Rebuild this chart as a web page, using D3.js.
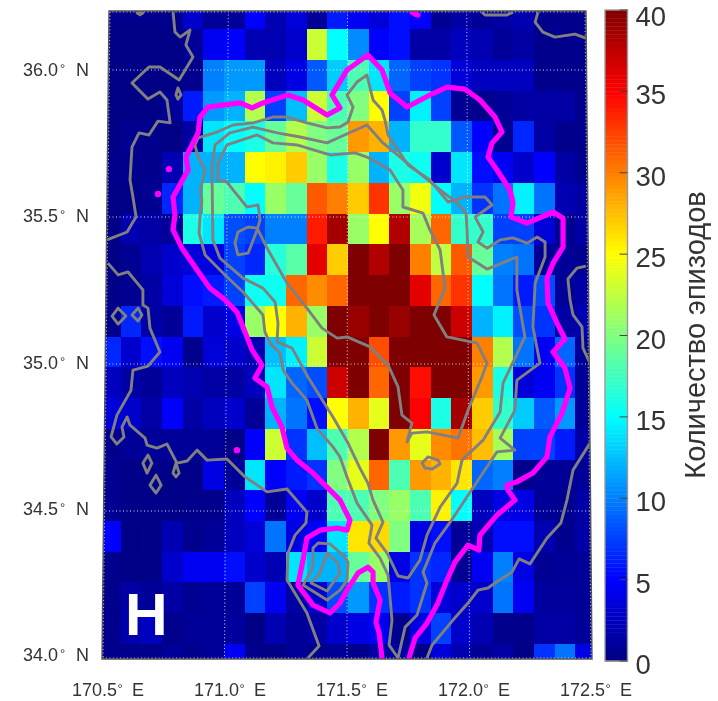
<!DOCTYPE html>
<html><head><meta charset="utf-8">
<script src="https://cdn.jsdelivr.net/npm/d3@7"></script>
<style>html,body{margin:0;padding:0;background:#fff}svg{display:block;filter:blur(.3px)}text{font-family:"Liberation Sans",Arial,sans-serif;fill:#333}</style>
</head><body><svg id="c" width="718" height="701"></svg>
<script>
const latTicks=[36.0,35.5,35.0,34.5,34.0];
const lonTicks=[170.5,171.0,171.5,172.0,172.5];
const cbTicks=[0,5,10,15,20,25,30,35,40];
const cbLabel="Количество эпизодов";
const panelLetter="Н";
const counts=[
[.5,.5,.5,.5,3,1,1,5,2,3.5,1,6,4.5,3.5,5.5,5,.8,1.5,1,1.5,2,.5,.5,.5],
[.3,.3,.3,.3,1,4.5,5,2,2,3,23,15,10.5,5,5.5,1.5,1.5,2.5,2,1,1.5,.5,.5,.5],
[.3,.3,.3,.3,.5,10,11,11,2.5,4,8.5,13,18,14,9,7.5,7,3.5,2.5,2.5,2.5,.5,.5,.5],
[.3,.3,.3,1,6,11,12,22,7.5,12.5,23,18,20,25,7.5,14.5,7.5,.8,.5,1,1.5,1.5,1.5,.5],
[.3,.7,.5,.3,1.5,14,15,16,19,22,20,19,29,28,12,17,17,8.5,5,.7,6.5,1.5,.5,.5],
[.5,.5,.5,2,12,12,12,25,25.5,27,21,16,21,12,16,15.5,3,14,5.5,4.5,3,5,1.5,.7],
[.4,.4,.7,6.5,12,19,18,15,21,19,31.5,30,27,33,21,24.5,15,12,7,9.5,14.5,9.5,2,1.5],
[.3,2,1.5,1,16,14,8,7.5,10,10,34,38.5,21,25,38,21.5,31,17,17,7.5,7.5,3.5,.5,1.5],
[.3,.8,2,3,3.5,4,7.5,6.5,16.5,18.5,36,27,40,38,40,30,22.5,31.5,19,10,9.5,1,1,.7],
[.4,.8,1.5,3.5,5.5,6,7.5,15.5,15.5,31,29.5,31,40,40,40,36,31,33,15,9.5,6,8,1,1.5],
[.5,6.5,1.5,1,6,3,4,21,25,28,21,40,39,40,39,40,40,37,12,14.5,8,7,1.5,2],
[6.5,3,5.5,4.5,.5,3.5,3,2,12.5,14.5,23,40,40,32,40,40,40,40,30,22,9.5,4.5,9,1],
[2.5,1.5,1,2.5,2,1.5,1.5,2.5,14,9,8,37,40,31,40,34.5,40,40,29,16,3.5,4.5,7,1],
[3.5,3,1.5,5,1.5,2.5,3,1,12,9.5,5.5,25,28,24,40,35,16,38.5,27,17,13,8.5,11,1],
[.5,1,1,1,1,1,.4,5,23,7,12.5,18,22,40,29,24,29.5,30.5,27.5,21.5,7.5,7.5,6,1.5],
[.7,.4,.4,.4,.4,4,1,14,5,6,7,20,24,31,18,29,28,26,9,10,.5,1,1,1],
[.7,.4,.4,.4,.5,.5,2.5,5,1,4.5,3,18,18,20,21,18,25.5,15,2.5,4,4,1,.7,1.5],
[5,.3,.4,2,.6,1,2.5,3.5,9.5,4,5,14,26,26.5,20,4,5.5,1,2,5.5,5.5,2,.6,1.5],
[.5,.4,.4,3,4.5,4.5,5.5,3,2,14,12,12,19,21,4,7,6.5,.8,4.5,10,4,.8,1,1],
[.5,1.5,1,1.5,.8,1,1,7.5,4.5,1.5,3,8,11,7,6,7,3.5,3,3,9.5,4.5,1.2,1.2,1],
[.5,1.8,2.5,.5,1,1,1.2,.3,2,1,1.5,3,4,4.5,.7,4,7.5,3,2,.5,.5,1.5,1.5,1],
[.5,.5,.5,1,.6,1,4.5,.5,.3,1,.5,1,.5,1.5,1.5,.3,3.5,2,1,1.5,.3,7,9.5,4]
];
const cellLons=[170.48,170.565,170.65,170.735,170.82,170.905,170.99,171.075,171.16,171.245,171.33,171.415,171.5,171.585,171.67,171.755,171.84,171.925,172.01,172.095,172.18,172.265,172.35,172.435,172.52];
const cellLats=[36.243,36.138,36.034,35.93,35.825,35.72,35.616,35.511,35.407,35.302,35.198,35.093,34.989,34.884,34.78,34.675,34.571,34.466,34.362,34.257,34.153,34.048,33.944];

const domeEdge=[[171.640,34.000],[171.628,34.085],[171.615,34.122],[171.632,34.197],[171.603,34.255],[171.603,34.292],[171.582,34.309],[171.541,34.289],[171.496,34.231],[171.467,34.187],[171.426,34.153],[171.356,34.180],[171.294,34.248],[171.315,34.333],[171.331,34.408],[171.385,34.435],[171.455,34.442],[171.496,34.435],[171.508,34.469],[171.467,34.537],[171.356,34.629],[171.290,34.673],[171.249,34.714],[171.228,34.786],[171.187,34.854],[171.167,34.922],[171.117,34.952],[171.146,34.996],[171.105,35.048],[171.068,35.126],[171.043,35.177],[170.994,35.218],[170.932,35.258],[170.879,35.320],[170.817,35.394],[170.780,35.456],[170.788,35.507],[170.780,35.568],[170.842,35.660],[170.833,35.704],[170.883,35.786],[170.891,35.840],[170.924,35.874],[171.056,35.888],[171.105,35.871],[171.150,35.888],[171.253,35.915],[171.315,35.898],[171.414,35.847],[171.467,35.871],[171.434,35.915],[171.496,36.000],[171.582,36.051],[171.640,36.000],[171.673,35.922],[171.743,35.874],[171.837,35.915],[171.907,35.942],[171.981,35.935],[172.043,35.898],[172.105,35.840],[172.134,35.789],[172.093,35.752],[172.076,35.704],[172.113,35.660],[172.167,35.592],[172.179,35.548],[172.171,35.500],[172.237,35.479],[172.344,35.517],[172.385,35.496],[172.385,35.398],[172.344,35.343],[172.319,35.292],[172.323,35.207],[172.360,35.139],[172.393,35.085],[172.344,35.041],[172.393,34.986],[172.414,34.918],[172.381,34.833],[172.331,34.752],[172.323,34.707],[172.319,34.684],[172.261,34.629],[172.195,34.599],[172.154,34.588],[172.158,34.571],[172.187,34.537],[172.113,34.486],[172.043,34.418],[172.039,34.367],[171.994,34.384],[171.940,34.326],[171.907,34.265],[171.870,34.187],[171.825,34.119],[171.776,34.068],[171.751,34.000]];
const domeTop=[[171.763,36.197],[171.776,36.190],[171.788,36.187]];
const domeSpots=[[170.763,35.663],[170.718,35.578],[171.043,34.707]];

const coastA=[[170.780,36.197],[170.788,36.129],[170.809,36.112],[170.850,36.136],[170.833,36.085],[170.862,36.044],[170.805,35.966],[170.726,36.010],[170.681,36.010],[170.611,35.956],[170.677,35.901],[170.726,35.925],[170.755,35.898],[170.768,35.820],[170.718,35.826],[170.681,35.779],[170.640,35.786],[170.611,35.738],[170.603,35.626],[170.615,35.568],[170.628,35.500],[170.615,35.483],[170.591,35.449],[170.508,35.422]];
const coastB=[[170.512,35.343],[170.554,35.303],[170.595,35.313],[170.656,35.252],[170.656,35.201],[170.677,35.190],[170.685,35.122],[170.726,35.041],[170.677,34.993],[170.615,34.979],[170.607,34.911],[170.549,34.826],[170.525,34.752],[170.549,34.728],[170.578,34.752],[170.570,34.786],[170.591,34.820],[170.603,34.792],[170.665,34.748],[170.673,34.724],[170.714,34.714],[170.755,34.728],[170.796,34.663],[170.838,34.670],[170.879,34.707],[170.920,34.673],[171.002,34.677],[171.076,34.616],[171.167,34.565],[171.249,34.575],[171.331,34.496],[171.327,34.459],[171.282,34.418],[171.253,34.357],[171.249,34.265],[171.331,34.153],[171.381,34.041],[171.335,34.000]];
const coastC=[[172.051,36.197],[172.064,36.187],[172.154,36.187],[172.179,36.197]];
const coastD=[[172.282,36.197],[172.270,36.163],[172.302,36.129],[172.352,36.112],[172.434,36.122],[172.475,36.109],[172.52,36.11]];
const coastE=[[172.479,35.333],[172.442,35.326],[172.405,35.289],[172.414,35.218],[172.426,35.167],[172.463,35.126],[172.467,35.054],[172.496,35.003]];
const coastF=[[172.496,34.731],[172.426,34.639],[172.401,34.537],[172.376,34.459],[172.319,34.408],[172.249,34.320],[172.204,34.337],[172.175,34.292],[172.105,34.255],[172.076,34.238],[172.035,34.231],[171.994,34.187],[171.932,34.129],[171.846,34.044],[171.825,34.000]];
const contourOuter=[[170.870,35.745],[170.883,35.769],[170.961,35.789],[171.027,35.813],[171.109,35.820],[171.191,35.840],[171.249,35.840],[171.331,35.820],[171.414,35.803],[171.467,35.806],[171.500,35.823],[171.521,35.874],[171.496,35.915],[171.537,35.959],[171.578,35.983],[171.603,35.898],[171.640,35.864],[171.652,35.830],[171.665,35.779],[171.747,35.677],[171.837,35.626],[171.912,35.551],[171.981,35.568],[172.064,35.568],[172.093,35.541],[172.023,35.500],[172.056,35.449],[172.035,35.415],[172.072,35.394],[172.126,35.422],[172.179,35.429],[172.237,35.411],[172.278,35.432],[172.311,35.415],[172.311,35.364],[172.270,35.275],[172.261,35.126],[172.290,35.003],[172.195,34.945],[172.187,34.843],[172.126,34.748],[172.187,34.707],[172.113,34.701],[172.014,34.578],[171.932,34.476],[171.858,34.391],[171.809,34.292],[171.825,34.255],[171.784,34.146],[171.735,34.105],[171.706,34.000],[171.669,34.044],[171.681,34.129],[171.665,34.282],[171.632,34.340],[171.586,34.391],[171.599,34.452],[171.537,34.527],[171.496,34.616],[171.467,34.684],[171.438,34.718],[171.372,34.782],[171.331,34.877],[171.270,34.935],[171.233,34.979],[171.220,35.037],[171.179,35.071],[171.158,35.109],[171.150,35.167],[171.068,35.245],[171.002,35.296],[170.912,35.371],[170.887,35.445],[170.891,35.500],[170.899,35.558],[170.891,35.585],[170.912,35.660],[170.883,35.704]];
const contourMiddle=[[170.940,35.670],[170.953,35.745],[171.014,35.786],[171.109,35.806],[171.208,35.786],[171.303,35.772],[171.414,35.752],[171.467,35.772],[171.578,35.813],[171.644,35.752],[171.743,35.684],[171.879,35.592],[171.949,35.548],[171.986,35.513],[171.990,35.456],[171.994,35.364],[172.072,35.323],[172.195,35.364],[172.195,35.252],[172.228,35.092],[172.187,35.020],[172.138,34.935],[172.126,34.837],[172.056,34.741],[171.969,34.673],[171.949,34.595],[171.879,34.513],[171.825,34.418],[171.796,34.333],[171.747,34.272],[171.706,34.279],[171.661,34.357],[171.615,34.408],[171.644,34.462],[171.603,34.537],[171.582,34.595],[171.549,34.646],[171.500,34.731],[171.438,34.820],[171.335,34.956],[171.270,35.054],[171.208,35.075],[171.212,35.139],[171.200,35.211],[171.150,35.258],[171.068,35.292],[170.973,35.360],[170.944,35.422]];
const contourInner=[[170.965,35.684],[171.002,35.745],[171.126,35.779],[171.191,35.752],[171.290,35.745],[171.426,35.711],[171.529,35.718],[171.578,35.704],[171.673,35.660],[171.726,35.592],[171.726,35.534],[171.809,35.513],[171.837,35.456],[171.879,35.388],[171.899,35.258],[171.854,35.167],[171.907,35.092],[172.031,35.071],[172.072,35.003],[172.051,34.956],[171.994,34.843],[171.953,34.748],[171.825,34.769],[171.763,34.765],[171.743,34.735],[171.763,34.799],[171.722,34.826],[171.706,34.922],[171.665,34.996],[171.591,35.058],[171.496,35.092],[171.455,35.088],[171.393,35.122],[171.331,35.190],[171.249,35.275],[171.167,35.394],[171.126,35.462],[171.089,35.466],[171.047,35.449],[171.035,35.411],[171.047,35.371],[171.089,35.377],[171.126,35.456],[171.138,35.490],[171.130,35.541],[171.084,35.534],[171.027,35.592],[171.002,35.619],[170.965,35.626]];
const ringOuter=[[171.315,34.248],[171.356,34.309],[171.356,34.374],[171.377,34.391],[171.426,34.388],[171.479,34.350],[171.500,34.326],[171.496,34.265],[171.467,34.231],[171.414,34.197]];
const ringInner=[[171.348,34.255],[171.385,34.289],[171.414,34.357],[171.459,34.323],[171.467,34.289],[171.414,34.228]];
const oval=[[171.805,34.663],[171.829,34.684],[171.870,34.673],[171.879,34.660],[171.846,34.643],[171.817,34.646]];
const isleA=[[170.529,35.163],[170.554,35.190],[170.586,35.163],[170.554,35.136]];
const isleB=[[170.611,35.167],[170.636,35.190],[170.652,35.167],[170.636,35.146]];
const isleC=[[170.656,34.663],[170.677,34.690],[170.693,34.663],[170.673,34.629]];
const isleD=[[170.685,34.588],[170.710,34.622],[170.731,34.588],[170.710,34.561]];
const isleE=[[170.792,34.663],[170.805,34.629],[170.792,34.616],[170.780,34.629]];
const isleF=[[170.800,35.939],[170.813,35.915],[170.800,35.901],[170.792,35.915]];
const isleG=[[170.632,36.194],[170.644,36.200],[170.656,36.194],[170.644,36.188]];

const svg=d3.select("#c");
const frameTop=11,frameBot=659;
const yLat=d3.scaleLinear().domain([34,36]).range([658,70]);
const xMid=d3.scaleLinear().domain([170.5,172.5]).range([105,591]);
const xTop=d3.scaleLinear().domain([170.5,172.5]).range([109,586]);
const xBot=d3.scaleLinear().domain([170.5,172.5]).range([102,592]);
const jet=d3.scaleLinear().domain([0,5,15,25,35,40]).range(["rgb(0,0,127)","rgb(0,0,255)","rgb(0,255,255)","rgb(255,255,0)","rgb(255,0,0)","rgb(127,0,0)"]).clamp(true);
const defs=svg.append("defs");
const framePts=[[xTop(170.5),frameTop],[xTop(172.5),frameTop],[xBot(172.5),frameBot],[xBot(170.5),frameBot]];
defs.append("clipPath").attr("id","fr").append("polygon").attr("points",framePts.join(" "));
const mapG=svg.append("g").attr("clip-path","url(#fr)");
counts.forEach((row,r)=>row.forEach((v,c)=>{
  const x0=xMid(cellLons[c]),x1=xMid(cellLons[c+1]),y0=yLat(cellLats[r]),y1=yLat(cellLats[r+1]);
  mapG.append("rect").attr("x",x0).attr("y",y0).attr("width",x1-x0+.5).attr("height",y1-y0+.5).attr("fill",jet(v)).attr("shape-rendering","crispEdges");
}));
const lineGen=d3.line().x(d=>xMid(d[0])).y(d=>yLat(d[1]));
const closedGen=d3.line().x(d=>xMid(d[0])).y(d=>yLat(d[1])).curve(d3.curveLinearClosed);
const grat=mapG.append("g").attr("stroke","#fff").attr("stroke-width",1).attr("stroke-dasharray","1 2.5").attr("fill","none").attr("opacity",.85);
latTicks.slice(0,4).forEach(l=>grat.append("line").attr("x1",102).attr("x2",592).attr("y1",yLat(l)).attr("y2",yLat(l)));
lonTicks.slice(1,4).forEach(l=>grat.append("line").attr("x1",xTop(l)).attr("x2",xBot(l)).attr("y1",frameTop).attr("y2",frameBot));
grat.append("polygon").attr("points",framePts.join(" ")).attr("stroke-width",3);
const gray=mapG.append("g").attr("fill","none").attr("stroke","#808080").attr("stroke-width",2.9).attr("stroke-linejoin","round");
[coastA,coastB,coastC,coastD,coastE,coastF].forEach(a=>gray.append("path").attr("d",lineGen(a)));
[contourOuter,contourMiddle,contourInner,ringOuter,ringInner,oval,isleA,isleB,isleC,isleD,isleE,isleF,isleG].forEach(a=>gray.append("path").attr("d",closedGen(a)));
const mag=mapG.append("g").attr("fill","none").attr("stroke","#ff00ff").attr("stroke-width",5.2).attr("stroke-linejoin","round").attr("stroke-linecap","round");
mag.append("path").attr("d",lineGen(domeEdge));
mag.append("path").attr("d",lineGen(domeTop));
mapG.selectAll("circle.s").data(domeSpots).join("circle").attr("cx",d=>xMid(d[0])).attr("cy",d=>yLat(d[1])).attr("r",3.2).attr("fill","#ff00ff");
svg.append("polygon").attr("points",framePts.join(" ")).attr("fill","none").attr("stroke","#555").attr("stroke-width",1.4);
svg.append("text").text(panelLetter).attr("x",125).attr("y",635).attr("font-size",59).attr("font-weight","bold").style("fill","#fff");
const latY=d3.scaleLinear().domain([34,36]).range([655,70]);
latTicks.forEach(l=>{
  const t=svg.append("text").attr("y",latY(l)+6).attr("font-size",18);
  t.append("tspan").text(l.toFixed(1)).attr("x",23);
  t.append("tspan").text("°").attr("x",60).attr("dy",-3).attr("font-size",13);
  t.append("tspan").text("N").attr("x",76).attr("dy",3);
});
const lonX=d3.scaleLinear().domain([170.5,172.5]).range([72,560]);
lonTicks.forEach(l=>{
  const t=svg.append("text").attr("y",696).attr("font-size",18);
  t.append("tspan").text(l.toFixed(1)).attr("x",lonX(l));
  t.append("tspan").text("°").attr("x",lonX(l)+45.5).attr("dy",-3).attr("font-size",13);
  t.append("tspan").text("E").attr("x",lonX(l)+60).attr("dy",3);
});
const cbX=605,cbW=22.5;
const cbY=d3.scaleLinear().domain([0,40]).range([661,10]);
d3.range(0,40,.25).forEach(v=>svg.append("rect").attr("x",cbX).attr("width",cbW).attr("y",cbY(v+.25)).attr("height",cbY(v)-cbY(v+.25)+.4).attr("fill",jet(v+.125)));
svg.append("rect").attr("x",cbX).attr("y",10).attr("width",cbW).attr("height",651).attr("fill","none").attr("stroke","#999").attr("stroke-width",1.4);
const cbG=svg.append("g").attr("transform",`translate(${cbX+cbW},0)`);
cbG.call(d3.axisRight(cbY).tickValues(cbTicks).tickSize(0).tickPadding(8));
cbG.select(".domain").remove();
cbG.selectAll(".tick text").attr("font-size",27.5).attr("font-family","Liberation Sans").attr("dy","0").attr("y",d=>d===40?15:12.5).style("fill","#333");
cbTicks.forEach(v=>svg.append("line").attr("x1",cbX+cbW-8).attr("x2",cbX+cbW).attr("y1",cbY(v)).attr("y2",cbY(v)).attr("stroke","#444").attr("stroke-width",1));
svg.append("text").text(cbLabel).attr("transform","translate(705,335) rotate(-90)").attr("text-anchor","middle").attr("font-size",29);
</script></body></html>
